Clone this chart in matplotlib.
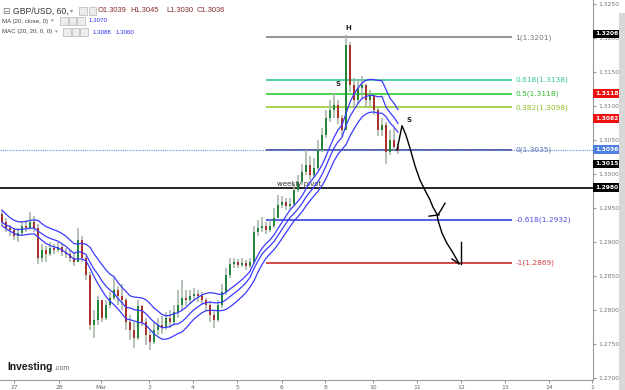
import numpy as np
import pandas as pd
import matplotlib
matplotlib.use('Agg')
import matplotlib.pyplot as plt
from matplotlib.patches import Rectangle
from matplotlib.transforms import blended_transform_factory

# GBP/USD candles (open = previous close)
first_open = 1.2941
closes = [1.2929, 1.2921, 1.2918, 1.2909, 1.2913, 1.2924, 1.2921, 1.2929, 1.2921, 1.2876,
          1.2888, 1.2882, 1.2891, 1.2888, 1.2893, 1.2885, 1.2882, 1.2876, 1.2871, 1.2903,
          1.2876, 1.2851, 1.2778, 1.2785, 1.2815, 1.2788, 1.2807, 1.2818, 1.2829, 1.2821,
          1.2815, 1.2782, 1.2771, 1.2759, 1.2806, 1.2782, 1.2763, 1.2753, 1.2771, 1.2778,
          1.2774, 1.2788, 1.2782, 1.2797, 1.2807, 1.2818, 1.2815, 1.2821, 1.2824, 1.2821,
          1.2815, 1.2807, 1.2793, 1.2785, 1.2807, 1.2826, 1.2851, 1.2868, 1.2871, 1.2866,
          1.2869, 1.2865, 1.2871, 1.2915, 1.2921, 1.2924, 1.2918, 1.2924, 1.2935, 1.2954,
          1.2959, 1.2953, 1.2956, 1.2976, 1.2988, 1.3003, 1.3013, 1.2999, 1.3009, 1.3035,
          1.3057, 1.3082, 1.3094, 1.3101, 1.3082, 1.3065, 1.3190, 1.3131, 1.3109, 1.3126,
          1.3131, 1.3109, 1.3115, 1.3094, 1.3065, 1.3072, 1.3032, 1.3050, 1.3039, 1.3036]
highs = [1.2947, 1.2935, 1.2925, 1.2921, 1.2921, 1.2929, 1.2932, 1.2944, 1.2938, 1.2926,
         1.2897, 1.2894, 1.2900, 1.2897, 1.2900, 1.2897, 1.2891, 1.2888, 1.2885, 1.2921,
         1.2909, 1.2879, 1.2856, 1.2800, 1.2821, 1.2815, 1.2815, 1.2826, 1.2848, 1.2835,
         1.2838, 1.2818, 1.2793, 1.2782, 1.2815, 1.2807, 1.2788, 1.2771, 1.2782, 1.2788,
         1.2791, 1.2797, 1.2800, 1.2807, 1.2829, 1.2844, 1.2829, 1.2829, 1.2832, 1.2829,
         1.2826, 1.2818, 1.2812, 1.2800, 1.2815, 1.2838, 1.2862, 1.2876, 1.2876, 1.2875,
         1.2876, 1.2874, 1.2876, 1.2924, 1.2932, 1.2937, 1.2929, 1.2932, 1.2950, 1.2969,
         1.2968, 1.2965, 1.2965, 1.2985, 1.2999, 1.3015, 1.3035, 1.3026, 1.3024, 1.3050,
         1.3068, 1.3094, 1.3109, 1.3119, 1.3109, 1.3087, 1.3204, 1.3194, 1.3141, 1.3138,
         1.3144, 1.3132, 1.3124, 1.3115, 1.3097, 1.3082, 1.3076, 1.3065, 1.3068, 1.3045]
lows = [1.2924, 1.2915, 1.2909, 1.2903, 1.2900, 1.2909, 1.2915, 1.2918, 1.2915, 1.2868,
        1.2871, 1.2871, 1.2879, 1.2882, 1.2885, 1.2879, 1.2876, 1.2871, 1.2865, 1.2871,
        1.2871, 1.2844, 1.2771, 1.2759, 1.2778, 1.2782, 1.2785, 1.2803, 1.2815, 1.2807,
        1.2800, 1.2771, 1.2756, 1.2744, 1.2756, 1.2776, 1.2749, 1.2741, 1.2750, 1.2763,
        1.2765, 1.2771, 1.2774, 1.2776, 1.2788, 1.2800, 1.2806, 1.2809, 1.2815, 1.2812,
        1.2809, 1.2800, 1.2782, 1.2774, 1.2782, 1.2803, 1.2822, 1.2847, 1.2862, 1.2862,
        1.2863, 1.2859, 1.2862, 1.2868, 1.2909, 1.2915, 1.2912, 1.2915, 1.2921, 1.2940,
        1.2950, 1.2947, 1.2947, 1.2953, 1.2974, 1.2984, 1.2999, 1.2991, 1.2994, 1.3006,
        1.3032, 1.3053, 1.3076, 1.3082, 1.3074, 1.3056, 1.3065, 1.3121, 1.3097, 1.3103,
        1.3112, 1.3097, 1.3100, 1.3087, 1.3056, 1.3056, 1.3015, 1.3028, 1.3035, 1.3030]

ma_window = 10

tick_pos = [3, 14.25, 24.75, 36.75, 47.75, 58.75, 70, 80.75, 92.75, 103.75, 114.75, 125.75, 136.75, 147.5]
tick_labels = ['27', '28', 'Mar', '3', '4', '5', '6', '8', '10', '11', '12', '13', '14', '1']

fib_prices = [1.3201, 1.3138, 1.3118, 1.3098, 1.3035, 1.2932, 1.2869]
fib_labels = ['1(1.3201)', '0.618(1.3138)', '0.5(1.3118)', '0.382(1.3098)',
              '0(1.3035)', '-0.618(1.2932)', '-1(1.2869)']
fib_colors = ['#808080', '#35c49c', '#2ccc2c', '#9acd32', '#33448a', '#3344e0', '#cc2a2a']
fib_text_colors = ['#777777', '#35c49c', '#2cbb2c', '#8fbf2a', '#5a76b0', '#4a4ae8', '#d04040']

pivot_price = 1.2980
last_price = 1.3036

side_prices = [1.3206, 1.3118, 1.3082, 1.3036, 1.3015, 1.2980]
side_colors = ['black', '#ee1111', '#ee1111', '#4f7fe0', 'black', 'black']

pattern_labels = ['H', 'S', 'S']
pattern_x = [86.5, 84, 101.75]
pattern_y = [1.3214, 1.3132, 1.3080]

# hand-drawn projection
draw_x = [98.75, 100, 101, 102, 103.25, 104.5, 105.75, 107, 107.75, 108.75, 109, 110, 111.25, 112.75, 114, 114.25]
draw_y = [1.3035, 1.3071, 1.3057, 1.3038, 1.3012, 1.2991, 1.2976, 1.2962, 1.2951, 1.2941,
          1.2932, 1.2913, 1.2898, 1.2884, 1.2871, 1.2868]
hook_x = [106.75, 109.25]
hook_y = [1.2938, 1.2940]
tick_x = [109, 109.75, 110.75]
tick_y = [1.2940, 1.2947, 1.2957]
head_x = [112.5, 114.25]
head_y = [1.2875, 1.2868]
stem_x = [114.75, 114.75]
stem_y = [1.2900, 1.2868]

opens = [first_open] + closes[:-1]
o = np.array(opens)
c = np.array(closes)
idx = np.arange(len(closes))
ma_mid = pd.Series(closes).rolling(ma_window, min_periods=1).mean()
ma_up = pd.Series(highs).rolling(ma_window, min_periods=1).mean()
ma_lo = pd.Series(lows).rolling(ma_window, min_periods=1).mean()

W, H = 625, 390
def fx(px):
    return px / W
def fy(py):
    return 1 - py / H

fig = plt.figure(figsize=(6.25, 3.9), dpi=100)
ax = fig.add_axes([0, 10 / H, 593 / W, 380 / H])
ax.set_xlim(-0.5, 147.75)
ax.set_ylim(1.269706, 1.325588)

# candles
ax.vlines(idx, lows, highs, color='#a3b2a3', lw=1.1, zorder=2)
up = c >= o
bot = np.minimum(o, c)
hgt = np.maximum(np.abs(c - o), 0.0001)
ax.bar(idx[up], hgt[up], bottom=bot[up], width=0.72, color='#23843a', lw=0, zorder=3)
ax.bar(idx[~up], hgt[~up], bottom=bot[~up], width=0.72, color='#a8322b', lw=0, zorder=3)

# moving average channel
for s in (ma_up, ma_mid, ma_lo):
    ax.plot(idx, s, color='#3a3aff', lw=0.9, zorder=4)

# fibonacci levels
ax.hlines(fib_prices, 66, 127.5, colors=fib_colors, lw=1.2, zorder=1)
for p, lab, col in zip(fib_prices, fib_labels, fib_text_colors):
    ax.text(128.4, p, lab, fontsize=5.3, color=col, va='center', ha='left')

ax.axhline(pivot_price, color='black', lw=1.2, zorder=1)
ax.text(68.75, pivot_price + 0.00002, 'weekly pivot', fontsize=5, color='#333333',
        va='bottom', ha='left')
ax.axhline(last_price, color='#6f8fe6', lw=0.8, ls=(0, (1, 1)), zorder=1)

for lab, x, y in zip(pattern_labels, pattern_x, pattern_y):
    ax.text(x, y, lab, fontsize=5, fontweight='bold', color='#222222', ha='center', va='center')

ax.plot(draw_x, draw_y, color='black', lw=1.0, zorder=5)
ax.plot(hook_x, hook_y, color='black', lw=1.0, zorder=5)
ax.plot(tick_x, tick_y, color='black', lw=1.0, zorder=5)
ax.plot(head_x, head_y, color='black', lw=1.0, zorder=5)
ax.plot(stem_x, stem_y, color='black', lw=1.0, zorder=5)

# axes styling
for sp in ('top', 'left'):
    ax.spines[sp].set_visible(False)
for sp in ('right', 'bottom'):
    ax.spines[sp].set_color('#9a9a9a')
    ax.spines[sp].set_linewidth(0.8)
ax.yaxis.tick_right()
ax.set_yticks(np.arange(1.2700, 1.32501, 0.005))
ax.set_yticklabels(['%.4f' % v for v in np.arange(1.2700, 1.32501, 0.005)])
ax.tick_params(axis='y', length=2.5, pad=1.5, labelsize=4.3, labelcolor='#777777', color='#999999')
ax.set_xticks(tick_pos)
ax.set_xticklabels(tick_labels)
ax.tick_params(axis='x', length=2.5, pad=1, labelsize=4.3, labelcolor='#666666', color='#999999')

# price boxes on the right scale
tr = blended_transform_factory(ax.transAxes, ax.transData)
for p, col in zip(side_prices, side_colors):
    ax.text(1.003, p, '%.4f' % p, transform=tr, fontsize=4.3, color='white', fontweight='bold',
            va='center', ha='left', clip_on=False, zorder=6,
            bbox=dict(boxstyle='square,pad=0.3', fc=col, ec='none'))

# scrollbar
fig.add_artist(Rectangle((fx(619), 0), 6 / W, fy(13), transform=fig.transFigure,
                         facecolor='#d8d8d8', edgecolor='none'))

# header legend
fam = ['Liberation Sans', 'DejaVu Sans']
fig.text(fx(2), fy(11), '\u229f', fontsize=6.5, color='#777777', va='center', family='DejaVu Sans')
fig.text(fx(13), fy(11), 'GBP/USD, 60,', fontsize=6.2, color='#333333', va='center', family=fam)
fig.text(fx(70), fy(11), '\u25be', fontsize=4.5, color='#888888', va='center', family='DejaVu Sans')
ohlc = ['O1.3039', 'H1.3045', 'L1.3030', 'C1.3036']
for x, t in zip([97.5, 130, 166, 197], ohlc):
    fig.text(fx(x), fy(11), t, fontsize=5.4, color='#8a2b2b', va='center', family=fam)
fig.text(fx(2), fy(21), 'MA (20, close, 0)', fontsize=4.4, color='#444444', va='center', family=fam)
fig.text(fx(51), fy(21), '\u25be', fontsize=3.8, color='#888888', va='center', family='DejaVu Sans')
fig.text(fx(89), fy(21), '1.3070', fontsize=4.4, color='#2a2aee', va='center', family=fam)
fig.text(fx(2), fy(32), 'MAC (20, 20, 0, 0)', fontsize=4.4, color='#444444', va='center', family=fam)
fig.text(fx(55), fy(32), '\u25be', fontsize=3.8, color='#888888', va='center', family='DejaVu Sans')
fig.text(fx(93), fy(32), '1.3088', fontsize=4.4, color='#2a2aee', va='center', family=fam)
fig.text(fx(116), fy(32), '1.3060', fontsize=4.4, color='#2a2aee', va='center', family=fam)
for x0, yc in [(79, 11), (88.5, 11), (60, 21), (68.5, 21), (77, 21), (63, 32), (71.5, 32), (80, 32)]:
    fig.add_artist(Rectangle((fx(x0), fy(yc + 3.5)), 7.5 / W, 7 / H, transform=fig.transFigure,
                             facecolor='#ececec', edgecolor='#b5b5b5', lw=0.5))

# logo
fig.text(fx(7), fy(367), 'Investing', fontsize=7.4, fontweight='bold', color='#1a1a1a',
         va='center', family=fam)
fig.text(fx(54), fy(368), '.com', fontsize=5, color='#666666', va='center', family=fam)

fig.savefig('out.png', dpi=100, facecolor='white')
